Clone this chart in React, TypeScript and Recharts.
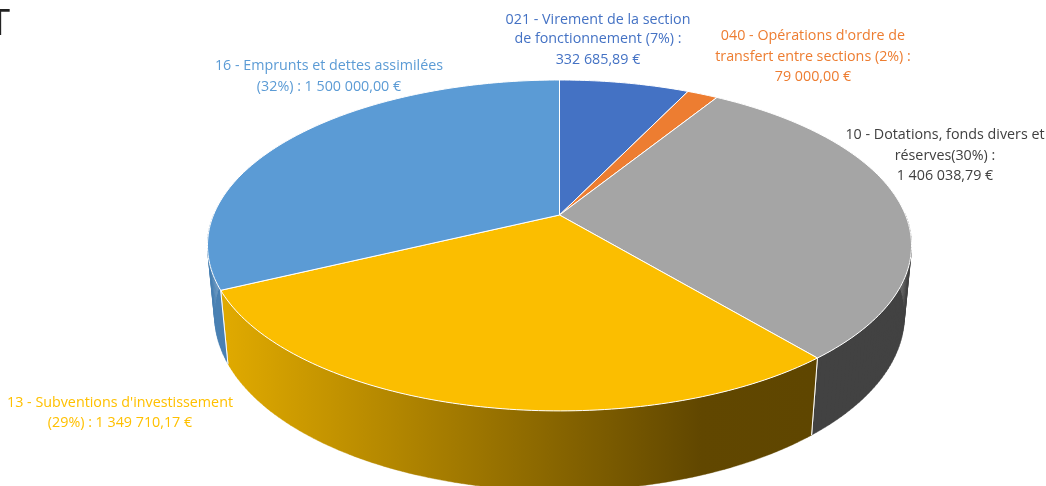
import React from "react";
import { PieChart, Pie, Cell } from "recharts";

const names = [
  "021 - Virement de la section de fonctionnement",
  "040 - Opérations d'ordre de transfert entre sections",
  "10 - Dotations, fonds divers et réserves",
  "13 - Subventions d'investissement",
  "16 - Emprunts et dettes assimilées",
];
const values = [332685.89, 79000, 1406038.79, 1349710.17, 1500000];
const labelLines = [
  ["021 - Virement de la section", "de fonctionnement (7%) :", "332 685,89 €"],
  ["040 - Opérations d'ordre de", "transfert entre sections (2%) :", "79 000,00 €"],
  ["10 - Dotations, fonds divers et", "réserves(30%) :", "1 406 038,79 €"],
  ["13 - Subventions d'investissement", "(29%) : 1 349 710,17 €"],
  ["16 - Emprunts et dettes assimilées", "(32%) : 1 500 000,00 €"],
];

const topColors = ["#4472c4", "#ed7d31", "#a5a5a5", "#fbbe00", "#5b9bd5"];
const sideColors = ["#2f528f", "#ae5a21", "#424242", "url(#yellowSide)", "#4a80b2"];
const textColors = ["#4472c4", "#ed7d31", "#404040", "#ffc000", "#5b9bd5"];

const data = names.map((name, i) => ({ name, value: values[i] }));

// label anchor (centre x, baseline of each line)
const labelX = [598, 813, 945, 120, 329];
const labelY = [
  [24, 43, 64],
  [40, 61, 81],
  [139, 160, 180],
  [407, 427],
  [70, 91],
];

// perspective projection of the pie plane, the recharts angles go through this
const TILT = 0.462;
const PERSP = 0.184;
const DROP = 70.6; // height of the extrusion on screen
const SHRINK = 0.02; // how much the bottom face recedes

function project(p: any, angle: number, bottom: boolean) {
  const a = (angle * Math.PI) / 180;
  const u = Math.cos(a);
  const v = Math.sin(a);
  const w = 1 + PERSP * v + (bottom ? SHRINK : 0);
  const r = p.outerRadius;
  return {
    x: p.cx + (r * u) / w,
    y: p.cy + (-r * TILT * v + (bottom ? DROP : 0)) / w,
  };
}

function arcAngles(p: any) {
  const steps = Math.max(2, Math.ceil(Math.abs(p.endAngle - p.startAngle)));
  const out = [];
  for (let i = 0; i <= steps; i++) {
    out.push(p.startAngle + ((p.endAngle - p.startAngle) * i) / steps);
  }
  return out;
}

function TopFace(props: any) {
  const pts = arcAngles(props).map((a) => project(props, a, false));
  const d =
    `M${props.cx},${props.cy} ` + pts.map((q) => `L${q.x.toFixed(2)},${q.y.toFixed(2)}`).join(" ") + " Z";
  return <path d={d} fill={props.fill} stroke="#fff" strokeWidth={1} strokeLinejoin="round" />;
}

const isFront = (a: number) => Math.sin((a * Math.PI) / 180) < 0;

function SideWall(props: any) {
  const angles = arcAngles(props);
  let d = "";
  for (let i = 0; i < angles.length - 1; i++) {
    if (!isFront(angles[i]) && !isFront(angles[i + 1])) continue;
    const t0 = project(props, angles[i], false);
    const t1 = project(props, angles[i + 1], false);
    const b0 = project(props, angles[i], true);
    const b1 = project(props, angles[i + 1], true);
    d += `M${t0.x},${t0.y} L${t1.x},${t1.y} L${b1.x},${b1.y} L${b0.x},${b0.y} Z `;
  }
  if (!d) return <g />;
  const edge = (a: number) => {
    if (!isFront(a)) return null;
    const t = project(props, a, false);
    const b = project(props, a, true);
    return <line x1={t.x} y1={t.y} x2={b.x} y2={b.y} stroke="#fff" strokeWidth={1} />;
  };
  return (
    <g>
      <path d={d} fill={props.fill} stroke={props.fill} strokeWidth={0.4} />
      {edge(props.startAngle)}
      {edge(props.endAngle)}
    </g>
  );
}

function renderLabel(props: any) {
  const i = props.index;
  return (
    <text
      key={i}
      textAnchor="middle"
      fontFamily="'Open Sans', sans-serif"
      fontSize={14.3}
      fill={textColors[i]}
    >
      {labelLines[i].map((line, k) => (
        <tspan key={k} x={labelX[i]} y={labelY[i][k]}>
          {line}
        </tspan>
      ))}
    </text>
  );
}

export default function App() {
  return (
    <div
      style={{
        position: "absolute",
        left: 0,
        top: 0,
        width: 1046,
        height: 486,
        overflow: "hidden",
        background: "#fff",
        filter: "blur(0.4px)",
      }}
    >
      <PieChart width={1046} height={486} margin={{ top: 0, right: 0, bottom: 0, left: 0 }}>
        <defs>
          <linearGradient id="yellowSide" gradientUnits="userSpaceOnUse" x1={228} y1={0} x2={812} y2={0}>
            <stop offset="0" stopColor="#dfa900" />
            <stop offset="0.81" stopColor="#614700" />
            <stop offset="1" stopColor="#5f4600" />
          </linearGradient>
        </defs>
        <text x={-11.5} y={35} fontFamily="'Liberation Sans', sans-serif" fontSize={36} fill="#222">
          T
        </text>
        <Pie
          data={data}
          dataKey="value"
          nameKey="name"
          cx={559.5}
          cy={215}
          outerRadius={346}
          startAngle={90}
          endAngle={-270}
          shape={SideWall}
          isAnimationActive={false}
        >
          {data.map((_, i) => (
            <Cell key={i} fill={sideColors[i]} />
          ))}
        </Pie>
        <Pie
          data={data}
          dataKey="value"
          nameKey="name"
          cx={559.5}
          cy={215}
          outerRadius={346}
          startAngle={90}
          endAngle={-270}
          shape={TopFace}
          label={renderLabel}
          labelLine={false}
          isAnimationActive={false}
        >
          {data.map((_, i) => (
            <Cell key={i} fill={topColors[i]} />
          ))}
        </Pie>
      </PieChart>
    </div>
  );
}
